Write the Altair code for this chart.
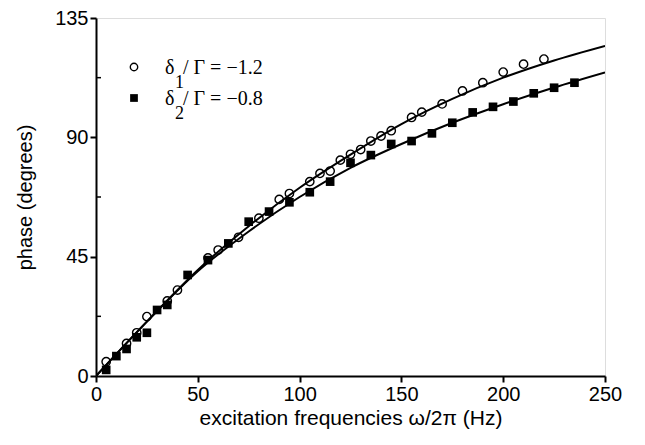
import altair as alt
import pandas as pd

# open circles: delta1 / Gamma = -1.2
freq1 = [5, 15, 20, 25, 35, 40, 55, 60, 70, 80, 90, 95, 105, 110, 115, 120, 125, 130,
         135, 140, 145, 155, 160, 170, 180, 190, 200, 210, 220]
phase1 = [5.4, 12.3, 16.3, 22.4, 28.3, 32.4, 44.5, 47.5, 52.3, 59.5, 66.6, 68.8, 73.3,
          76.4, 77.3, 81.4, 83.6, 85.4, 88.6, 90.5, 92.5, 97.5, 99.5, 102.6, 107.5,
          110.6, 114.6, 117.6, 119.5]

# filled squares: delta2 / Gamma = -0.8
freq2 = [5, 10, 15, 20, 25, 30, 35, 45, 55, 65, 75, 85, 95, 105, 115, 125, 135, 145,
         155, 165, 175, 185, 195, 205, 215, 225, 235]
phase2 = [2.3, 7.5, 10.2, 14.6, 16.3, 24.9, 26.8, 38.1, 43.7, 50.0, 58.2, 62.0, 65.5,
          69.3, 73.3, 80.4, 83.3, 87.5, 88.6, 91.5, 95.5, 99.4, 101.5, 103.5, 106.6,
          108.7, 110.6]

# fitted curves
fit_freq = [0, 25, 50, 75, 100, 125, 150, 175, 200, 225, 250]
fit1 = [0, 20.5, 40, 56.5, 71, 83.5, 95, 104.5, 112.5, 119, 124.5]
fit2 = [0, 20.5, 39.5, 54.5, 67.5, 78.5, 87.5, 95.5, 102.5, 108.8, 114.5]

x_ticks = [0, 50, 100, 150, 200, 250]
y_ticks = [0, 45, 90, 135]
y_minor = [22.5, 67.5, 112.5]

W, H = 509, 358
SANS = "Liberation Sans"
SERIF = "Liberation Serif"

xs = alt.Scale(domain=[0, 250], nice=False, zero=False)
ys = alt.Scale(domain=[0, 135], nice=False, zero=False)

xaxis = alt.Axis(values=x_ticks, title="excitation frequencies ω/2π (Hz)", grid=False,
                 labelFont=SANS, labelFontSize=20, labelColor="black", labelPadding=2,
                 titleFont=SANS, titleFontSize=21, titleFontWeight="normal",
                 titleColor="black", titlePadding=3,
                 tickSize=6, tickWidth=2, tickColor="black",
                 domainColor="black", domainWidth=2, labelFlush=False)
yaxis = alt.Axis(values=y_ticks, title="phase (degrees)", grid=False,
                 labelFont=SANS, labelFontSize=20, labelColor="black", labelPadding=2,
                 titleFont=SANS, titleFontSize=20, titleFontWeight="normal",
                 titleColor="black", titlePadding=19,
                 tickSize=6, tickWidth=2, tickColor="black",
                 domainColor="black", domainWidth=2, labelFlush=False)

n = len(fit_freq)
df_fit = pd.DataFrame({"f": fit_freq * 2, "p": fit1 + fit2,
                       "s": ["fit1"] * n + ["fit2"] * n})
df1 = pd.DataFrame({"f": freq1, "p": phase1})
df2 = pd.DataFrame({"f": freq2, "p": phase2})
dfm = pd.DataFrame({"v": y_minor})

lines = alt.Chart(df_fit).mark_line(color="black", strokeWidth=2,
                                    interpolate="monotone", clip=True).encode(
    x=alt.X("f:Q", scale=xs, axis=xaxis),
    y=alt.Y("p:Q", scale=ys, axis=yaxis),
    detail="s:N")

squares = alt.Chart(df2).mark_point(shape="square", filled=True, color="black",
                                    opacity=1, size=75).encode(
    x=alt.X("f:Q", scale=xs), y=alt.Y("p:Q", scale=ys))

circles = alt.Chart(df1).mark_point(shape="circle", filled=False, color="black",
                                    opacity=1, size=70, strokeWidth=1.4).encode(
    x=alt.X("f:Q", scale=xs), y=alt.Y("p:Q", scale=ys))

minor = alt.Chart(dfm).mark_rule(color="black", strokeWidth=1.5).encode(
    y=alt.Y("v:Q", scale=ys), x=alt.value(0), x2=alt.value(5))

# legend (drawn by hand, as in the figure)
leg_c = alt.Chart(pd.DataFrame({"a": [0]})).mark_point(
    shape="circle", filled=False, color="black", opacity=1, size=55, strokeWidth=1.4
).encode(x=alt.value(38), y=alt.value(49))
leg_s = alt.Chart(pd.DataFrame({"a": [0]})).mark_point(
    shape="square", filled=True, color="black", opacity=1, size=60
).encode(x=alt.value(38), y=alt.value(80))


def txt(s, x, y, size=20):
    return alt.Chart(pd.DataFrame({"a": [0]})).mark_text(
        text=s, font=SERIF, fontSize=size, color="black", align="left",
        baseline="alphabetic").encode(x=alt.value(x), y=alt.value(y))


legend = [
    txt("δ", 69, 56), txt("1", 79, 70, 18), txt("/ Γ = −1.2", 87, 56),
    txt("δ", 69, 87), txt("2", 79, 101, 18), txt("/ Γ = −0.8", 87, 87),
]

chart = alt.layer(minor, lines, squares, circles, leg_c, leg_s, *legend).properties(
    width=W, height=H,
    autosize=alt.AutoSizeParams(type="none"),
    padding={"left": 88, "top": 10, "right": 30, "bottom": 55},
).configure_view(stroke="black", strokeWidth=2).configure(background="white")

chart.save("out.html", embed_options={"renderer": "svg", "actions": False})
